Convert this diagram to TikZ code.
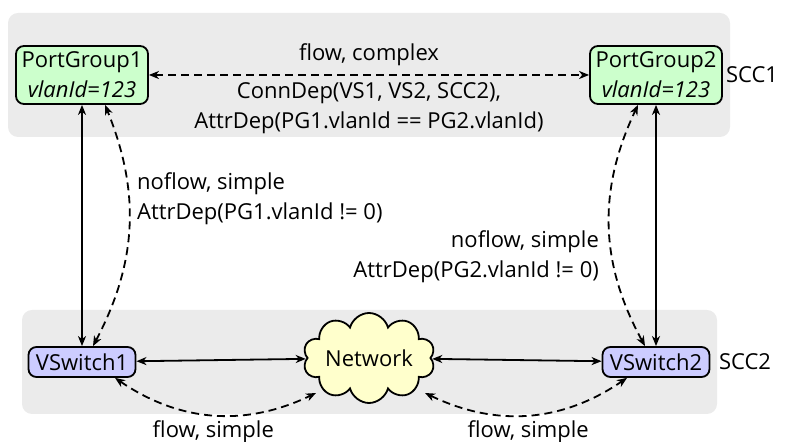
\documentclass[tikz,border=0pt]{standalone}
\usepackage{fontspec}
\setmainfont{Open Sans}
\usetikzlibrary{arrows.meta,positioning,shapes.symbols,backgrounds}
\definecolor{pgGreen}{HTML}{CCFFCC}
\definecolor{vsBlue}{HTML}{CCCCFF}
\definecolor{netYellow}{HTML}{FFFFCC}
\definecolor{sccGray}{HTML}{EBEBEB}

\begin{document}
\begin{tikzpicture}[
    x=0.5pt,y=0.5pt,
    >={Stealth[length=5pt,width=4pt,inset=1.5pt]},
    every node/.style={font=\fontsize{11}{15}\selectfont},
    comp/.style={rectangle,rounded corners=4pt,draw=black,line width=0.9pt,
                 inner sep=2pt,align=center},
    pgbox/.style={comp,fill=pgGreen,minimum width=66pt,minimum height=29pt},
    vsbox/.style={comp,fill=vsBlue,minimum width=53.5pt,minimum height=15pt},
    netcloud/.style={cloud,cloud puffs=10,cloud ignores aspect,draw=black,
                 line width=0.9pt,inner sep=0pt,fill=netYellow,
                 minimum width=66pt,minimum height=45pt},
    sccbg/.style={fill=sccGray,rounded corners=5pt},
    link/.style={<->,line width=0.9pt},
    dep/.style={<->,line width=0.9pt,dash pattern=on 4pt off 2.5pt}
  ]
  \useasboundingbox (0,0) rectangle (786,442);
  %% Components
  \node[pgbox] (pg1) at (82,367)  {PortGroup1\\\textit{vlanId=123}};
  \node[pgbox] (pg2) at (656,367) {PortGroup2\\\textit{vlanId=123}};
  \node[vsbox] (vs1) at (82,80)   {VSwitch1};
  \node[vsbox] (vs2) at (656,80)  {VSwitch2};
  \node[netcloud] (net) at (369,84) {Network};
  %% SCC names
  \node (scc1) at (752,367) {SCC1};
  \node (scc2) at (745,80)  {SCC2};
  %% SCC areas
  \begin{scope}[on background layer]
    \fill[sccbg] (8,305) rectangle (730,429);
    \fill[sccbg] (22,28) rectangle (717,132);
  \end{scope}
  %% Physical links
  \draw[link] (pg1) -- (vs1);
  \draw[link] (pg2) -- (vs2);
  \draw[link] (vs1) -- (net);
  \draw[link] (net) -- (vs2);
  %% Dependencies
  \draw[dep] (pg1.east) -- (pg2.west)
    node[midway,above=1pt] {flow, complex}
    node[midway,below,align=center] {ConnDep(VS1, VS2, SCC2),\\AttrDep(PG1.vlanId == PG2.vlanId)};
  \draw[dep] ([xshift=5.5pt]vs1.north) to[bend right=25]
    node[pos=0.62,right=0.5pt,align=left] {noflow, simple\\AttrDep(PG1.vlanId != 0)}
    ([xshift=11.5pt]pg1.south);
  \draw[dep] ([xshift=-5.5pt]vs2.north) to[bend left=27]
    node[pos=0.37,left=3pt,align=right] {noflow, simple\\AttrDep(PG2.vlanId != 0)}
    ([xshift=-9pt]pg2.south);
  \draw[dep] ([xshift=16.5pt]vs1.south) to[bend right=30]
    node[midway,below=-1pt] {flow, simple}
    ([shift={(-53,-35)}]net.center);
  \draw[dep] ([shift={(56,-35)}]net.center) to[bend right=30]
    node[midway,below=-1pt] {flow, simple}
    ([xshift=-14.5pt]vs2.south);
\end{tikzpicture}
\end{document}
